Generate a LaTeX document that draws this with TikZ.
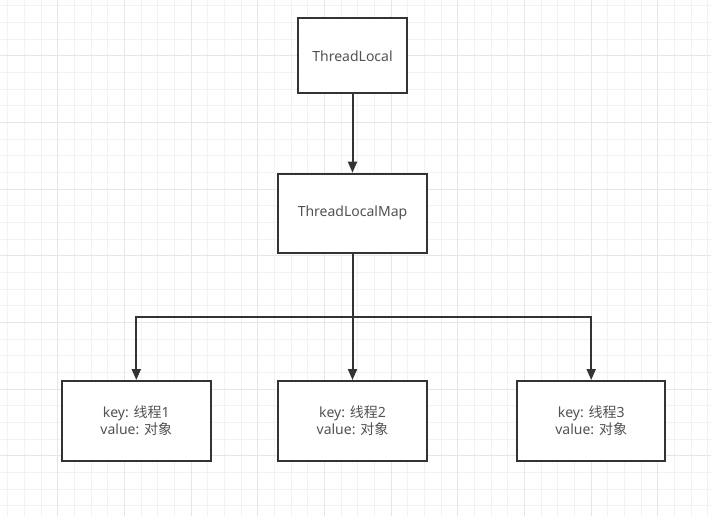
\documentclass[tikz,border=0pt]{standalone}
\usepackage{fontspec}
\setmainfont{Noto Sans}
\newfontfamily\cjk{Noto Sans CJK SC}
\usetikzlibrary{arrows.meta}
\definecolor{ink}{HTML}{333333}
\definecolor{gridminor}{HTML}{F2F2F2}
\definecolor{gridmajor}{HTML}{E6E6E6}
\tikzset{
  box/.style={draw=ink, line width=2pt, fill=white, text=ink!85!white,
    align=center, inner sep=0pt, font=\fontsize{14}{17}\selectfont},
  topbox/.style={box, minimum width=109pt, minimum height=75pt},
  widebox/.style={box, minimum width=148.5pt, minimum height=80pt},
  link/.style={draw=ink, line width=2pt, -{Triangle[length=11pt,width=9pt]}},
  minorline/.style={draw=gridminor, line width=1pt},
  majorline/.style={draw=gridmajor, line width=1pt}
}
\begin{document}
\begin{tikzpicture}[x=1pt, y=-1pt]
  \useasboundingbox (0,0) rectangle (711,516);
  \fill[white] (0,0) rectangle (711,516);
  % background grid
  \foreach \k in {0,...,42} {
    \draw[minorline] (7.7+16.667*\k,0) -- ++(0,516);
  }
  \foreach \k in {0,...,31} {
    \draw[minorline] (0,5.7+16.667*\k) -- ++(711,0);
  }
  \foreach \k in {0,...,10} {
    \draw[majorline] (57.7-66.667+66.667*\k,0) -- ++(0,516);
  }
  \foreach \k in {0,...,8} {
    \draw[majorline] (0,55.7-66.667+66.667*\k) -- ++(711,0);
  }

  % nodes
  \node[topbox]  (tl)  at (352.5,56)    {ThreadLocal};
  \node[widebox, minimum height=79pt] (map) at (352.5,213.2) {ThreadLocalMap};
  \node[widebox] (k1) at (136.3,421) {key: {\cjk 线程}1\\value: {\cjk 对象}};
  \node[widebox] (k2) at (352.5,421) {key: {\cjk 线程}2\\value: {\cjk 对象}};
  \node[widebox] (k3) at (591.2,421) {key: {\cjk 线程}3\\value: {\cjk 对象}};
  \coordinate (bus) at (352.5,316.7);

  % connectors
  \draw[link] (tl.south) -- (map.north);
  \draw[link] (map.south) -- (k2.north);
  \draw[link] (map.south) -- (map.south |- bus) -| (k1.north);
  \draw[link] (map.south) -- (map.south |- bus) -| (k3.north);
\end{tikzpicture}
\end{document}
